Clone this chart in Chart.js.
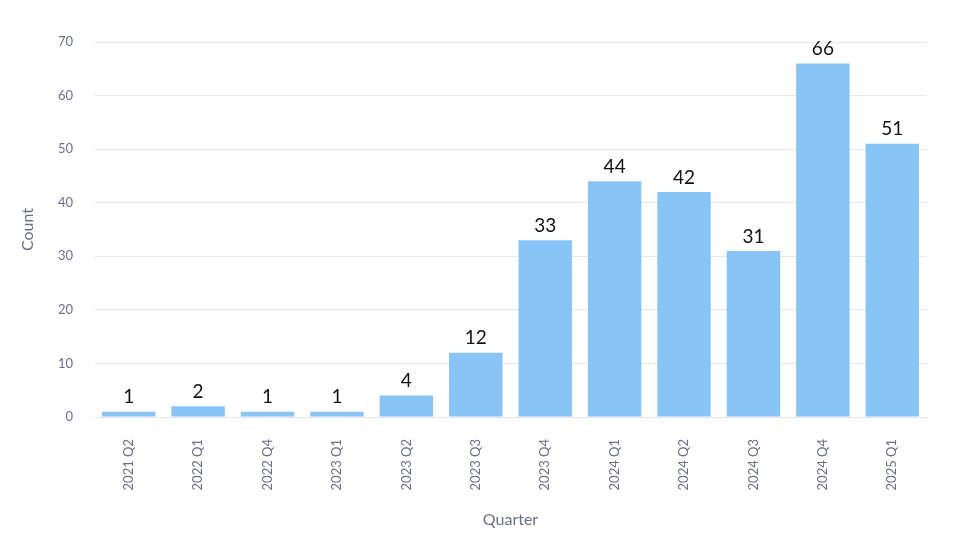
<!DOCTYPE html>
<html>
<head>
<meta charset="utf-8">
<script src="https://cdn.jsdelivr.net/npm/chart.js@4"></script>
<style>
html,body{margin:0;padding:0;background:#fff;}
#wrap{width:954px;height:548px;position:relative;}
</style>
</head>
<body>
<div id="wrap"><canvas id="c" width="954" height="548"></canvas></div>
<script>
const categories = ["2021 Q2","2022 Q1","2022 Q4","2023 Q1","2023 Q2","2023 Q3","2023 Q4","2024 Q1","2024 Q2","2024 Q3","2024 Q4","2025 Q1"];
const counts = [1,2,1,1,4,12,33,44,42,31,66,51];
const yTicks = [0,10,20,30,40,50,60,70];

const FONT = "Lato, 'Open Sans', sans-serif";
const GRAY = "#6b6f88";

const valueLabels = {
  id: 'valueLabels',
  afterDatasetsDraw(chart) {
    const ctx = chart.ctx;
    const meta = chart.getDatasetMeta(0);
    ctx.save();
    ctx.font = "19px " + FONT;
    ctx.fillStyle = "#111";
    ctx.textAlign = "center";
    ctx.textBaseline = "bottom";
    meta.data.forEach((bar, i) => {
      ctx.fillText(String(chart.data.datasets[0].data[i]), bar.x, bar.y - 5);
    });
    ctx.restore();
  }
};

new Chart(document.getElementById('c'), {
  type: 'bar',
  data: {
    labels: categories,
    datasets: [{
      data: counts,
      backgroundColor: '#89c4f7',
      borderWidth: 0,
      categoryPercentage: 1.0,
      barPercentage: 0.77
    }]
  },
  options: {
    responsive: false,
    animation: false,
    devicePixelRatio: 1,
    layout: { padding: { top: 42, right: 27, left: 0, bottom: 0 } },
    plugins: { legend: { display: false }, tooltip: { enabled: false } },
    scales: {
      x: {
        grid: { display: false, drawTicks: false },
        border: { display: true, color: '#e3e6ee', width: 1 },
        ticks: {
          color: GRAY,
          font: { family: FONT, size: 13 },
          minRotation: 90, maxRotation: 90,
          padding: 22,
          autoSkip: false
        },
        title: {
          display: true, text: 'Quarter', color: GRAY,
          font: { family: FONT, size: 16 },
          padding: { top: 0, bottom: 19 }
        },
        afterFit(s) { s.height = 131; }
      },
      y: {
        min: 0, max: 70,
        afterBuildTicks(s) { s.ticks = yTicks.map(v => ({ value: v })); },
        grid: { color: '#e6e8ef', drawTicks: false, lineWidth: 1 },
        border: { display: false },
        ticks: {
          color: GRAY,
          font: { family: FONT, size: 13 },
          padding: 21
        },
        title: {
          display: true, text: 'Count', color: GRAY,
          font: { family: FONT, size: 16 },
          padding: { top: 18, bottom: 0 }
        },
        afterFit(s) { s.width = 94; }
      }
    }
  },
  plugins: [valueLabels]
});
</script>
</body>
</html>
